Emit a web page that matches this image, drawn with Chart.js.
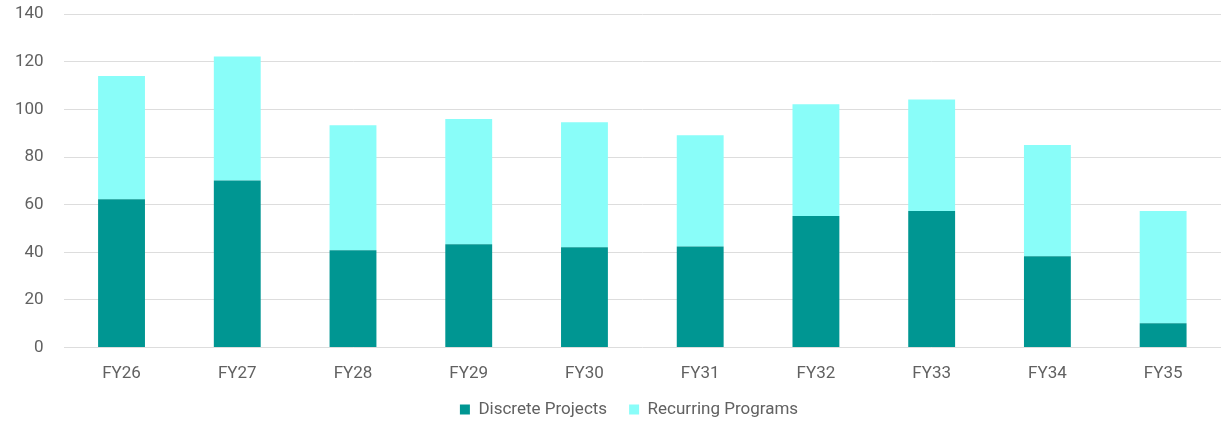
<!DOCTYPE html>
<html lang="en">
<head>
    <meta charset="UTF-8">
    <title>Discrete Projects vs Recurring Programs</title>
    <script src="https://cdn.jsdelivr.net/npm/chart.js@4.4.0/dist/chart.umd.min.js"></script>
    <style>
        html, body { margin: 0; padding: 0; background: #fff; }
        #wrap { width: 1221px; height: 424px; }
    </style>
</head>
<body>
    <div id="wrap"><canvas id="fyChart"></canvas></div>

    <script>
        const years = ['FY26', 'FY27', 'FY28', 'FY29', 'FY30', 'FY31', 'FY32', 'FY33', 'FY34', 'FY35'];
        const discreteProjects = [62.3, 70.1, 40.9, 43.4, 42.1, 42.4, 55.2, 57.3, 38.3, 10.2];
        const recurringPrograms = [51.7, 52.1, 52.5, 52.6, 52.5, 46.8, 47.0, 46.9, 46.8, 47.1];
        const yTicks = [0, 20, 40, 60, 80, 100, 120, 140];

        const textColor = '#616161';
        Chart.defaults.font.family = 'Roboto, "Liberation Sans", sans-serif';
        Chart.defaults.font.size = 17;
        Chart.defaults.color = textColor;

        // legend sits centred on the plot area rather than the whole canvas
        const legendNudge = {
            id: 'legendNudge',
            afterLayout(chart) {
                chart.legend.left += 13;
                chart.legend.right += 13;
            }
        };

        const ctx = document.getElementById('fyChart').getContext('2d');
        new Chart(ctx, {
            type: 'bar',
            data: {
                labels: years,
                datasets: [{
                    label: 'Discrete Projects',
                    data: discreteProjects,
                    backgroundColor: '#009692',
                    barPercentage: 0.5,
                    categoryPercentage: 0.81
                }, {
                    label: 'Recurring Programs',
                    data: recurringPrograms,
                    backgroundColor: '#89FDF9',
                    barPercentage: 0.5,
                    categoryPercentage: 0.81
                }]
            },
            options: {
                responsive: true,
                maintainAspectRatio: false,
                animation: false,
                // bottom < 0 lets the roomy legend hang past the edge a little
                layout: { padding: { top: 0.5, right: 0, bottom: -4, left: 11 } },
                plugins: {
                    tooltip: { enabled: false },
                    legend: {
                        position: 'bottom',
                        labels: {
                            boxWidth: 10,
                            boxHeight: 10,
                            padding: 22,
                            color: textColor
                        }
                    }
                },
                scales: {
                    x: {
                        stacked: true,
                        grid: { display: false },
                        border: { display: false },
                        ticks: { padding: 8 },
                        afterFit: (axis) => { axis.height -= 12.9; }
                    },
                    y: {
                        stacked: true,
                        min: yTicks[0],
                        max: yTicks[yTicks.length - 1],
                        afterBuildTicks: (axis) => { axis.ticks = yTicks.map(v => ({ value: v })); },
                        // invisible tick marks push the labels away from the grid
                        grid: { color: '#dddddd', tickColor: 'rgba(0,0,0,0)', tickLength: 16 },
                        border: { display: false },
                        ticks: { padding: 4 }
                    }
                }
            },
            plugins: [legendNudge]
        });
    </script>
</body>
</html>
